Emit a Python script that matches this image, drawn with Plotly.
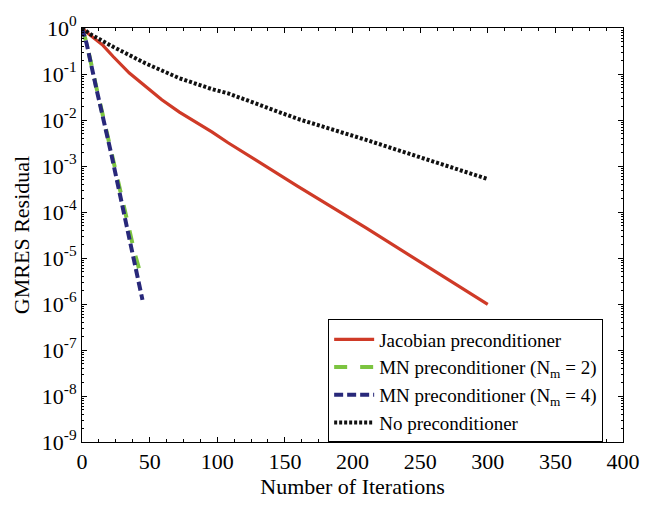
import plotly.graph_objects as go

# Jacobian preconditioner
jac_iter = [0, 3.4, 15.5, 23, 35, 47, 59, 72, 84, 96, 108, 159, 210, 255, 300]
jac_res = [1.0, 0.81, 0.42, 0.24, 0.105, 0.055, 0.0275, 0.0148, 0.0091, 0.0055,
           3.2e-3, 3.7e-4, 4.5e-5, 6.6e-6, 9.8e-7]

# MN preconditioner (Nm = 2)
mn2_iter = [0, 3.4, 10.7, 21.7, 24, 29, 34, 39, 44.3]
mn2_res = [1.0, 0.47, 0.05, 2.0e-3, 1.0e-3, 2.2e-4, 5.0e-5, 1.26e-5, 3.5e-6]

# MN preconditioner (Nm = 4)
mn4_iter = [0, 3.4, 10.7, 21.7, 33, 44.7]
mn4_res = [1.0, 0.46, 0.047, 1.8e-3, 5.0e-5, 1.23e-6]

# No preconditioner
nop_iter = [0, 6, 23, 47, 72, 96, 108, 159, 210, 255, 300]
nop_res = [1.0, 0.74, 0.39, 0.17, 0.081, 0.047, 0.038, 0.0107, 3.7e-3, 1.4e-3, 5.2e-4]

ytick_vals = [1, 1e-1, 1e-2, 1e-3, 1e-4, 1e-5, 1e-6, 1e-7, 1e-8, 1e-9]
ytick_text = ["10<sup>0</sup>", "10<sup>-1</sup>", "10<sup>-2</sup>", "10<sup>-3</sup>",
              "10<sup>-4</sup>", "10<sup>-5</sup>", "10<sup>-6</sup>", "10<sup>-7</sup>",
              "10<sup>-8</sup>", "10<sup>-9</sup>"]
xtick_vals = [0, 50, 100, 150, 200, 250, 300, 350, 400]

FONT = "Liberation Serif, Times New Roman, serif"

fig = go.Figure()
fig.add_trace(go.Scatter(x=jac_iter, y=jac_res, mode="lines", name="Jacobian preconditioner",
                         line=dict(color="#cf3a27", width=3.2)))
fig.add_trace(go.Scatter(x=mn2_iter, y=mn2_res, mode="lines",
                         name="MN preconditioner (N<sub>m</sub> = 2)",
                         line=dict(color="#7cc440", width=4, dash="13px,13px")))
fig.add_trace(go.Scatter(x=mn4_iter, y=mn4_res, mode="lines",
                         name="MN preconditioner (N<sub>m</sub> = 4)",
                         line=dict(color="#28287a", width=4, dash="9px,4px")))
fig.add_trace(go.Scatter(x=nop_iter, y=nop_res, mode="lines", name="No preconditioner",
                         line=dict(color="#111111", width=4, dash="3px,2px")))

axis_common = dict(showline=True, linecolor="black", linewidth=1, mirror="ticks",
                   ticks="inside", tickcolor="black", ticklen=5, showgrid=False,
                   zeroline=False, tickfont=dict(family=FONT, size=22, color="black"))

fig.update_xaxes(range=[0, 400], tickvals=xtick_vals,
                 minor=dict(dtick=12.5, ticks="inside", ticklen=3, tickcolor="black"),
                 title=dict(text="Number of Iterations", font=dict(family=FONT, size=22, color="black"),
                            standoff=4),
                 **axis_common)
fig.update_yaxes(type="log", range=[-9, 0], tickvals=ytick_vals, ticktext=ytick_text,
                 minor=dict(dtick="D1", ticks="inside", ticklen=2, tickcolor="black"),
                 title=dict(text="GMRES Residual", font=dict(family=FONT, size=22, color="black"),
                            standoff=6),
                 **axis_common)

fig.update_layout(
    width=652, height=506,
    margin=dict(l=82, r=22, t=19, b=64),
    plot_bgcolor="white", paper_bgcolor="white",
    font=dict(family=FONT, color="black"),
    legend=dict(x=0.455, y=0.296, xanchor="left", yanchor="top",
                bgcolor="white", bordercolor="black", borderwidth=1,
                font=dict(family=FONT, size=19, color="black"),
                tracegroupgap=0, itemwidth=40),
)

fig.write_html("out.html")
